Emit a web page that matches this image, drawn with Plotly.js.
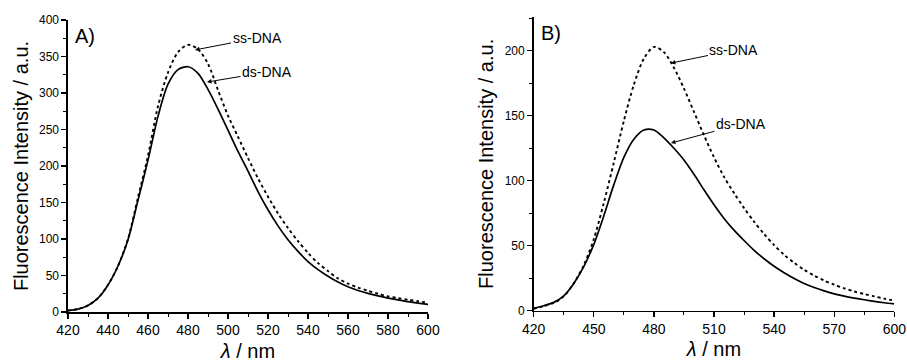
<!DOCTYPE html>
<html>
<head>
<meta charset="utf-8">
<script src="https://cdn.plot.ly/plotly-3.0.1.min.js"></script>
<style>html,body{margin:0;padding:0;background:#fff}#chart{width:907px;height:363px}</style>
</head>
<body>
<div id="chart"></div>
<script>
// Wavelength (nm)
const wavelength = [420,425,430,435,440,445,450,455,460,465,470,475,480,485,490,495,500,505,510,515,520,525,530,535,540,545,550,555,560,565,570,575,580,585,590,595,600];

// Panel A
const A_dsDNA = [2,4,9,19,37,63,99,153,208,268,312,332,336,327,305,278,249,220,193,165,140,118,99,83,69,58,49,41,34.5,29.5,25.5,22,19,16.5,14.3,12.2,10.3];
const A_ssDNA = [2,4,9,19,37,63,100,157,214,282,328,356,366,360,340,304,269,240,211,183,158,135,115,97,81,67,56,46,39,33.5,29,25,21.5,19,16.8,14.7,12.8];

// Panel B
const B_dsDNA = [1.8,3.8,6.4,11.5,21,34,51,73,97,118,132,139,139,133,125,116,105,93,81.5,71,62,54,46.5,40,34.2,29.2,24.8,21,17.9,15.3,13,11.2,9.7,8.4,7.2,6.1,5.2];
const B_ssDNA = [1.5,3.5,6,11,21,35,55,83,114,146,174,194,203,199,187,171,153,135,118,103,90.5,79,68.5,59,50.5,43,36.8,31.5,27,23.2,20,17.2,14.8,12.8,11,9.3,7.8];

const panelLabels = ['A)', 'B)'];
const seriesNames = ['ss-DNA', 'ds-DNA'];
const xTitle = '<i>λ</i> / nm';
const yTitle = 'Fluorescence Intensity / a.u.';

const FONT = 'Liberation Sans, Arial, sans-serif';
const W = 907, H = 363;

const lineSolid = {color:'#000', width:1.7, shape:'spline', smoothing:0.8};
const lineDot = {color:'#000', width:1.9, dash:'dot', shape:'spline', smoothing:0.8};

const traces = [
  {x: wavelength, y: A_ssDNA, mode:'lines', line: lineDot, xaxis:'x', yaxis:'y', name: seriesNames[0]},
  {x: wavelength, y: A_dsDNA, mode:'lines', line: lineSolid, xaxis:'x', yaxis:'y', name: seriesNames[1]},
  {x: wavelength, y: B_ssDNA, mode:'lines', line: lineDot, xaxis:'x2', yaxis:'y2', name: seriesNames[0]},
  {x: wavelength, y: B_dsDNA, mode:'lines', line: lineSolid, xaxis:'x2', yaxis:'y2', name: seriesNames[1]}
];

function xax(domain, dtick, minorDtick, anchor) {
  return {
    domain: domain, range:[420,600], anchor: anchor,
    showgrid:false, zeroline:false, showline:true, linecolor:'#000', linewidth:1.6,
    ticks:'outside', ticklen:5, tickwidth:1.2, tickcolor:'#000', dtick:dtick, tick0:420,
    minor:{ticks:'outside', ticklen:3, tickwidth:1, tickcolor:'#000', dtick:minorDtick, showgrid:false},
    tickfont:{family:FONT, size:14, color:'#000'},
    title:{text:xTitle, font:{family:FONT, size:20, color:'#000'}, standoff:6},
    automargin:false
  };
}
function yax(domain, range, anchor) {
  return {
    domain: domain, range: range, anchor: anchor,
    showgrid:false, zeroline:false, showline:true, linecolor:'#000', linewidth:1.6,
    ticks:'outside', ticklen:5, tickwidth:1.2, tickcolor:'#000', dtick:50, tick0:0,
    minor:{ticks:'outside', ticklen:3, tickwidth:1, tickcolor:'#000', dtick:25, showgrid:false},
    tickfont:{family:FONT, size:12, color:'#000'},
    title:{text:yTitle, font:{family:FONT, size:20, color:'#000'}, standoff:5},
    automargin:false
  };
}

const arrowCommon = {showarrow:true, arrowhead:2, arrowsize:0.9, arrowwidth:1, arrowcolor:'#000',
  font:{family:FONT, size:14, color:'#000'}};

const layout = {
  width:W, height:H,
  margin:{l:0, r:0, t:0, b:0},
  paper_bgcolor:'#fff', plot_bgcolor:'#fff',
  showlegend:false,
  xaxis: xax([68/W, 428/W], 20, 10, 'y'),
  yaxis: yax([1-312/H, 1-20/H], [0,400], 'x'),
  xaxis2: xax([533.7/W, 894.3/W], 30, 15, 'y2'),
  yaxis2: yax([1-310.7/H, 1-17/H], [0,226], 'x2'),
  annotations: [
    {text: panelLabels[0], xref:'x domain', yref:'y domain', x:0.015, y:0.99, xanchor:'left', yanchor:'top', showarrow:false, font:{family:FONT, size:20, color:'#000'}},
    {text: panelLabels[1], xref:'x2 domain', yref:'y2 domain', x:0.015, y:0.99, xanchor:'left', yanchor:'top', showarrow:false, font:{family:FONT, size:20, color:'#000'}},
    Object.assign({text: seriesNames[0], xref:'x', yref:'y', x:483.5, y:359, ax:62, ay:-12}, arrowCommon),
    Object.assign({text: seriesNames[1], xref:'x', yref:'y', x:489.5, y:315, ax:60, ay:-10}, arrowCommon),
    Object.assign({text: seriesNames[0], xref:'x2', yref:'y2', x:488.5, y:190.5, ax:63, ay:-13}, arrowCommon),
    Object.assign({text: seriesNames[1], xref:'x2', yref:'y2', x:488.5, y:129, ax:70, ay:-19}, arrowCommon)
  ]
};

Plotly.newPlot('chart', traces, layout, {staticPlot:true, displayModeBar:false});
</script>
</body>
</html>
